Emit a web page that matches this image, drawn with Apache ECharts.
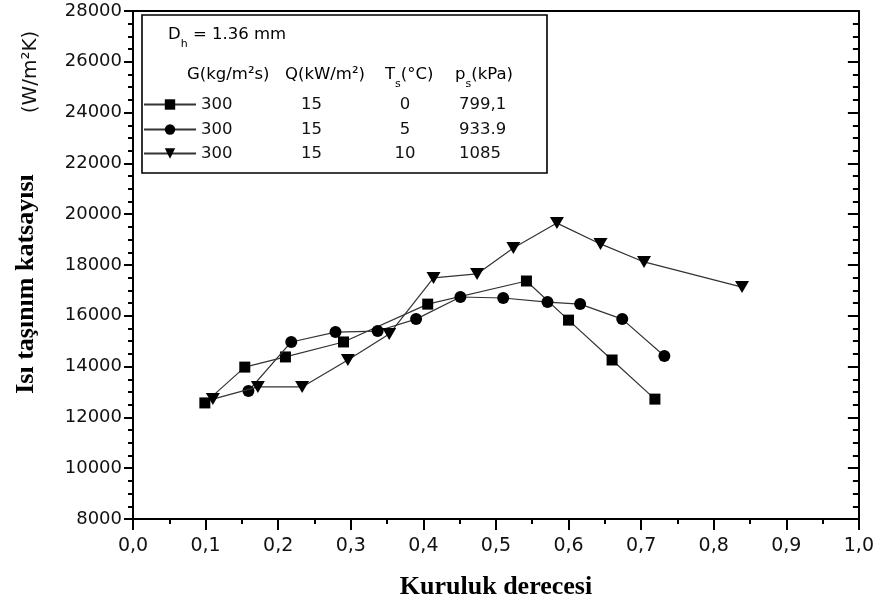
<!DOCTYPE html>
<html>
<head>
<meta charset="utf-8">
<script src="https://cdn.jsdelivr.net/npm/echarts@6/dist/echarts.min.js"></script>
<style>
  html, body { margin: 0; padding: 0; background: #fff; }
  #chart { width: 877px; height: 608px; }
</style>
</head>
<body>
<div id="chart"></div>
<script>
// Vapour quality (x) and heat transfer coefficient (W/m²K) for each saturation temperature
const seriesNames = ['Ts0', 'Ts5', 'Ts10'];

const quality0 = [0.099, 0.154, 0.210, 0.290, 0.406, 0.542, 0.600, 0.660, 0.719];
const htc0     = [12570, 13980, 14380, 14970, 16460, 17370, 15830, 14260, 12720];

const quality5 = [0.159, 0.218, 0.279, 0.337, 0.390, 0.451, 0.510, 0.571, 0.616, 0.674, 0.732];
const htc5     = [13040, 14970, 15360, 15400, 15870, 16740, 16700, 16540, 16460, 15870, 14420];

const quality10 = [0.110, 0.172, 0.233, 0.296, 0.353, 0.414, 0.474, 0.524, 0.584, 0.644, 0.704, 0.839];
const htc10     = [12720, 13200, 13200, 14260, 15280, 17490, 17650, 18670, 19650, 18830, 18120, 17130];

// Legend table columns
const massFlux    = ['300', '300', '300'];
const heatFlux    = ['15', '15', '15'];
const satTemp     = ['0', '5', '10'];
const satPressure = ['799,1', '933.9', '1085'];

// Axis ranges
const xMin = 0, xMax = 1, xStep = 0.1;
const yMin = 8000, yMax = 28000, yStep = 2000;

const qualities = [quality0, quality5, quality10];
const htcs = [htc0, htc5, htc10];
const symbols = ['rect', 'circle', 'triangle'];
const symbolSizes = [11, 12, [14, 12]];
const symbolRotates = [0, 0, 180];

const SANS = '"DejaVu Sans", sans-serif';
const SERIF = '"Liberation Serif", "Times New Roman", serif';
const INK = '#111';

const chart = echarts.init(document.getElementById('chart'), null, { renderer: 'canvas' });

const series = seriesNames.map((name, i) => ({
  name: name,
  type: 'line',
  xAxisIndex: 0,
  yAxisIndex: 0,
  data: qualities[i].map((q, k) => [q, htcs[i][k]]),
  symbol: symbols[i],
  symbolSize: symbolSizes[i],
  symbolRotate: symbolRotates[i],
  showSymbol: true,
  lineStyle: { color: '#333', width: 1.2 },
  itemStyle: { color: '#000' },
  emphasis: { disabled: true },
  z: 3 + i
}));

const legendRich = {
  a: { width: 80, fontSize: 16.5, fontFamily: SANS, color: INK, lineHeight: 20 },
  b: { width: 61, align: 'center', fontSize: 16.5, fontFamily: SANS, color: INK, lineHeight: 20 },
  g: { width: 33, lineHeight: 20 },
  c: { width: 60, align: 'center', fontSize: 16.5, fontFamily: SANS, color: INK, lineHeight: 20 },
  h: { width: 24, lineHeight: 20 },
  d: { fontSize: 16.5, fontFamily: SANS, color: INK, lineHeight: 20 }
};

const legendRowCenters = [106, 131, 155];
const legends = seriesNames.map((name, i) => ({
  data: [name],
  left: 143,
  top: legendRowCenters[i] - 10,
  padding: 0,
  itemWidth: 52,
  itemHeight: 13,
  selectedMode: false,
  formatter: (n) => {
    const r = seriesNames.indexOf(n);
    return '{a|' + massFlux[r] + '}{b|' + heatFlux[r] + '}{g|}{c|' + satTemp[r] + '}{h|}{d|' + satPressure[r] + '}';
  },
  textStyle: { rich: legendRich }
}));

// rich styles for header texts with subscripts
const headRich = {
  m: { fontSize: 16.5, fontFamily: SANS, color: INK, lineHeight: 30, verticalAlign: 'middle' },
  s: { fontSize: 11, fontFamily: SANS, color: INK, lineHeight: 11, verticalAlign: 'bottom' }
};
function headText(x, y, text) {
  return {
    type: 'text', x: x, y: y, silent: true, z: 10,
    style: { text: text, rich: headRich, align: 'left', verticalAlign: 'middle' }
  };
}

const xTickFmt = (v) => v.toFixed(1).replace('.', ',');
const yTickFmt = (v) => String(Math.round(v));

chart.setOption({
  animation: false,
  backgroundColor: '#fff',
  grid: { left: 133, right: 17, top: 11, bottom: 89, containLabel: false },
  legend: legends,
  xAxis: [
    {
      type: 'value', position: 'bottom', min: xMin, max: xMax, interval: xStep,
      axisLine: { show: true, onZero: false, lineStyle: { color: '#000', width: 2 } },
      axisTick: { show: true, inside: false, length: 11, lineStyle: { color: '#000', width: 2 } },
      minorTick: { show: true, splitNumber: 2, length: 5, lineStyle: { color: '#000', width: 2 } },
      axisLabel: { margin: 18, fontSize: 19, fontFamily: SANS, color: INK, formatter: xTickFmt, showMinLabel: true, showMaxLabel: true },
      splitLine: { show: false }
    },
    {
      type: 'value', position: 'top', min: xMin, max: xMax, interval: xStep,
      axisLine: { show: true, onZero: false, lineStyle: { color: '#000', width: 2 } },
      axisTick: { show: false }, axisLabel: { show: false }, splitLine: { show: false }
    }
  ],
  yAxis: [
    {
      type: 'value', position: 'left', min: yMin, max: yMax, interval: yStep,
      axisLine: { show: true, onZero: false, lineStyle: { color: '#000', width: 2 } },
      axisTick: { show: true, inside: false, length: 9, lineStyle: { color: '#000', width: 2 } },
      minorTick: { show: true, splitNumber: 4, length: 5, lineStyle: { color: '#000', width: 2 } },
      axisLabel: { margin: 11, fontSize: 18, fontFamily: SANS, color: INK, formatter: yTickFmt, showMinLabel: true, showMaxLabel: true },
      splitLine: { show: false }
    },
    {
      type: 'value', position: 'right', min: yMin, max: yMax, interval: yStep,
      axisLine: { show: true, onZero: false, lineStyle: { color: '#000', width: 2 } },
      axisTick: { show: true, inside: true, length: 11, lineStyle: { color: '#000', width: 2 } },
      minorTick: { show: true, splitNumber: 4, length: 6, lineStyle: { color: '#000', width: 2 } },
      axisLabel: { show: false },
      splitLine: { show: false }
    }
  ],
  series: series,
  graphic: [
    // legend frame
    {
      type: 'rect', silent: true, z: 1,
      shape: { x: 142, y: 15, width: 405, height: 158 },
      style: { fill: '#fff', stroke: '#000', lineWidth: 1.6 }
    },
    headText(168, 35, '{m|D}{s|h}{m| = 1.36 mm}'),
    headText(187, 75, '{m|G(kg/m²s)}'),
    headText(285, 75, '{m|Q(kW/m²)}'),
    headText(385, 75, '{m|T}{s|s}{m|(°C)}'),
    headText(455, 75, '{m|p}{s|s}{m|(kPa)}'),
    // axis titles
    {
      type: 'text', x: 496, y: 587, silent: true,
      style: { text: 'Kuruluk derecesi', font: 'bold 26px ' + SERIF, fill: '#000', align: 'center', verticalAlign: 'middle' }
    },
    {
      type: 'text', x: 26, y: 284, rotation: Math.PI / 2, silent: true,
      style: { text: 'Isı taşınım katsayısı', font: 'bold 26px ' + SERIF, fill: '#000', align: 'center', verticalAlign: 'middle' }
    },
    {
      type: 'text', x: 31, y: 72, rotation: Math.PI / 2, silent: true,
      style: { text: '(W/m²K)', font: '20px ' + SANS, fill: INK, align: 'center', verticalAlign: 'middle' }
    }
  ]
});
</script>
</body>
</html>
